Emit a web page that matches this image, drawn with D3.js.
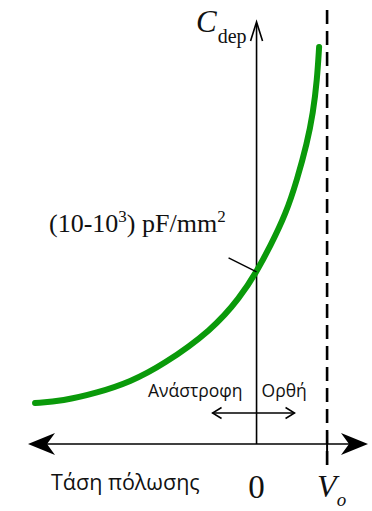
<!DOCTYPE html>
<html>
<head>
<meta charset="utf-8">
<script src="https://cdn.jsdelivr.net/npm/d3@7/dist/d3.min.js"></script>
<style>
  html, body { margin: 0; padding: 0; background: #fff; }
  svg { display: block; }
</style>
</head>
<body>
<svg id="chart" width="372" height="511"></svg>
<script>
// Bias voltage (in units of the built-in voltage V_o) and depletion capacitance (arbitrary units)
const biasVoltage = [-3.14, -2.75, -2.26, -1.79, -1.33, -0.63, -0.23, 0.00, 0.19, 0.42, 0.574, 0.716, 0.801, 0.858, 0.887];
const capacitance = [0.97, 1.02, 1.21, 1.47, 1.87, 2.70, 3.48, 4.08, 4.67, 5.47, 6.26, 7.13, 7.84, 8.63, 9.41];
const builtInVoltage = 1.0;
const xTickValues = [0, builtInVoltage];
const xAxisTitle = "Τάση πόλωσης";
const reverseLabel = "Ανάστροφη";
const forwardLabel = "Ορθή";

const svg = d3.select("#chart");

const x = d3.scaleLinear().domain([-3.24, 1.58]).range([28, 368]);
const y = d3.scaleLinear().domain([0, 10]).range([444, 22]);

const x0 = x(0), xV = x(builtInVoltage), yBase = y(0);

// Horizontal bias axis with heavy notched arrowheads at both ends
svg.append("line")
  .attr("x1", x.range()[0] + 10).attr("x2", x.range()[1] - 10)
  .attr("y1", yBase).attr("y2", yBase)
  .attr("stroke", "#000").attr("stroke-width", 1.6);

function bigArrow(tipX, dir) {
  const p = d3.path();
  p.moveTo(tipX, yBase);
  p.lineTo(tipX + dir * 27, yBase - 11);
  p.lineTo(tipX + dir * 19, yBase);
  p.lineTo(tipX + dir * 27, yBase + 11);
  p.closePath();
  svg.append("path").attr("d", p.toString()).attr("fill", "#000");
}
bigArrow(x.range()[0], 1);
bigArrow(x.range()[1], -1);

// Vertical capacitance axis
svg.append("line")
  .attr("x1", x0).attr("x2", x0)
  .attr("y1", y(10) + 2).attr("y2", yBase)
  .attr("stroke", "#000").attr("stroke-width", 1.6);
svg.append("path")
  .attr("d", `M${x0 - 6},${y(10) + 19} L${x0},${y(10)} L${x0 + 6},${y(10) + 19}`)
  .attr("fill", "none").attr("stroke", "#000").attr("stroke-width", 1.6);

// Built-in voltage asymptote
svg.append("line")
  .attr("x1", xV).attr("x2", xV)
  .attr("y1", 10).attr("y2", 465)
  .attr("stroke", "#000").attr("stroke-width", 2.6)
  .attr("stroke-dasharray", "14,7");
svg.append("line")
  .attr("x1", xV).attr("x2", xV)
  .attr("y1", yBase - 12).attr("y2", 465)
  .attr("stroke", "#000").attr("stroke-width", 2);

// C–V curve
const line = d3.line()
  .x((d, i) => x(biasVoltage[i]))
  .y(d => y(d))
  .curve(d3.curveBasis);
svg.append("path")
  .attr("d", line(capacitance))
  .attr("fill", "none")
  .attr("stroke", "#0a9a0a")
  .attr("stroke-width", 6)
  .attr("stroke-linecap", "round");

// Pointer to zero-bias capacitance
const yZero = y(capacitance[biasVoltage.indexOf(0)]);
svg.append("line")
  .attr("x1", x0 - 28).attr("y1", yZero - 14)
  .attr("x2", x0).attr("y2", yZero)
  .attr("stroke", "#000").attr("stroke-width", 1.4);

const serif = "'Liberation Serif', 'Times New Roman', serif";
const sans = "'Open Sans', 'Noto Sans', sans-serif";

// Intercept annotation
const ann = svg.append("text")
  .attr("x", 49).attr("y", 232)
  .attr("font-family", serif).attr("font-size", 26).attr("fill", "#111");
ann.append("tspan").text("(10-10");
ann.append("tspan").attr("dy", -10).attr("font-size", 17).text("3");
ann.append("tspan").attr("dy", 10).text(") pF/mm");
ann.append("tspan").attr("dy", -10).attr("font-size", 17).text("2");

// Axis title C_dep
const cl = svg.append("text")
  .attr("x", 196).attr("y", 32)
  .attr("font-family", serif).attr("fill", "#111");
cl.append("tspan").attr("font-size", 31).attr("font-style", "italic").text("C");
cl.append("tspan").attr("dy", 11).attr("dx", 1).attr("font-size", 20).text("dep");

// Bias direction indicator
svg.append("text")
  .attr("x", x0 - 14).attr("y", 397).attr("text-anchor", "end")
  .attr("font-family", sans).attr("font-size", 17.5).attr("fill", "#111")
  .text(reverseLabel);
svg.append("text")
  .attr("x", x0 + 5).attr("y", 397).attr("text-anchor", "start")
  .attr("font-family", sans).attr("font-size", 17.5).attr("fill", "#111")
  .text(forwardLabel);
const yArr = 413;
svg.append("line")
  .attr("x1", x0 - 44).attr("x2", x0 + 38)
  .attr("y1", yArr).attr("y2", yArr)
  .attr("stroke", "#000").attr("stroke-width", 1.5);
svg.append("path")
  .attr("d", `M${x0 - 35},${yArr - 5.5} L${x0 - 44},${yArr} L${x0 - 35},${yArr + 5.5}`)
  .attr("fill", "none").attr("stroke", "#000").attr("stroke-width", 1.5);
svg.append("path")
  .attr("d", `M${x0 + 29},${yArr - 5.5} L${x0 + 38},${yArr} L${x0 + 29},${yArr + 5.5}`)
  .attr("fill", "none").attr("stroke", "#000").attr("stroke-width", 1.5);

// Horizontal axis labels
svg.append("text")
  .attr("x", 51).attr("y", 490)
  .attr("font-family", sans).attr("font-size", 21.5).attr("fill", "#111")
  .text(xAxisTitle);

svg.append("text")
  .attr("x", x(xTickValues[0])).attr("y", 498).attr("text-anchor", "middle")
  .attr("font-family", serif).attr("font-size", 33).attr("fill", "#111")
  .text("0");

const vl = svg.append("text")
  .attr("x", x(xTickValues[1]) - 10).attr("y", 497)
  .attr("font-family", serif).attr("fill", "#111").attr("font-style", "italic");
vl.append("tspan").attr("font-size", 32).text("V");
vl.append("tspan").attr("dy", 9).attr("font-size", 19).text("o");
</script>
</body>
</html>
